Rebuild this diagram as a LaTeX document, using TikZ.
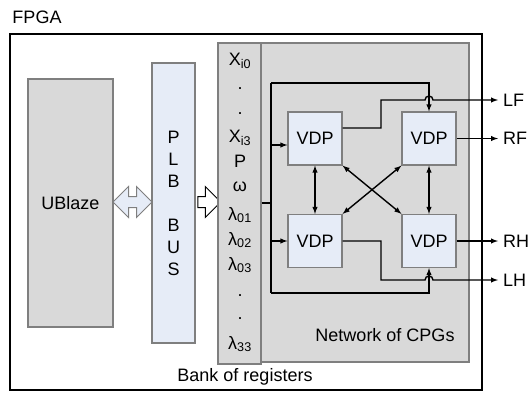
\documentclass[tikz,border=0pt]{standalone}
\usepackage{fontspec}
\setmainfont{Liberation Sans}
\usetikzlibrary{shapes,arrows,positioning,calc}

\definecolor{boxgray}{HTML}{D9D9D9}
\definecolor{edgegray}{HTML}{7F7F7F}
\definecolor{vdpblue}{HTML}{E6ECF7}

\begin{document}
\begin{tikzpicture}[
    x=1pt, y=-1pt,
    font=\fontsize{18}{22}\selectfont,
    graybox/.style={rectangle, draw=edgegray, fill=boxgray, line width=1.2pt, inner sep=0pt},
    bluebox/.style={rectangle, draw=edgegray, fill=vdpblue, line width=1.2pt, inner sep=0pt},
    vdp/.style={bluebox, minimum width=54pt, minimum height=53pt},
    wire/.style={line width=1.4pt},
    arrow/.style={wire, ->, >=latex},
    dblarrow/.style={wire, <->, >=latex},
    reglabel/.style={anchor=base, inner sep=0pt},
    outlabel/.style={anchor=west, inner sep=5pt}
]

\useasboundingbox (0,0) rectangle (529,392);

% Title
\node (title) at (37,17) {FPGA};
\node[draw=black, line width=2.8pt, minimum width=472pt, minimum height=356pt] (fpga) at (246,212) {};

% Processor and bus
\node[graybox, minimum width=85pt, minimum height=248pt] (ublaze) at (70.5,203) {UBlaze};
\node[bluebox, minimum width=43pt, minimum height=280pt, align=center] (plb) at (173.5,203) {P\\L\\B\\[22pt]B\\U\\S};

\node[double arrow, draw=edgegray, fill=vdpblue, line width=1pt, minimum height=39pt, inner sep=5pt, double arrow head extend=10pt] (hostarrow) at (132.5,202) {};
\node[single arrow, draw=black, fill=white, line width=1pt, minimum height=23pt, inner sep=5pt, single arrow head extend=10pt] (busarrow) at (206.5,202) {};

% Network and bank of registers
\node[graybox, minimum width=208pt, minimum height=319pt] (cpgs) at (365,202.5) {};
\node[graybox, minimum width=43pt, minimum height=321pt] (regs) at (239.5,203.5) {};

\foreach \txt/\y [count=\i] in {X\textsubscript{i0}/65, ./89, ./114, X\textsubscript{i3}/142, P/167, ω/191,
    λ\textsubscript{01}/220, λ\textsubscript{02}/245, λ\textsubscript{03}/270, ./296, ./319, λ\textsubscript{33}/349}
    \node[reglabel] (reg\i) at (240,\y) {\txt};

\node (banklbl) at (245,377) {Bank of registers};
\node (netlbl) at (385,335) {Network of CPGs};

% Oscillators
\node[vdp] (vdp1) at (315,138.5) {VDP};
\node[vdp] (vdp2) at (429,138.5) {VDP};
\node[vdp] (vdp3) at (315,241) {VDP};
\node[vdp] (vdp4) at (429,241) {VDP};

% Parameter lines
\coordinate (bustop) at (271,83);
\coordinate (busbot) at (271,293);
\coordinate (tap) at (271,203);
\draw[wire] (regs.east |- tap) -- (tap);
\draw[wire] (bustop) -- (busbot);
\draw[arrow] (bustop) -| (vdp2.north);
\draw[arrow] (busbot) -| (vdp4.south);
\draw[arrow] (bustop |- 0,145) -- (vdp1.west |- 0,145);
\draw[arrow] (bustop |- vdp3.west) -- (vdp3.west);

% Coupling
\draw[dblarrow] (vdp1) -- (vdp3);
\draw[dblarrow] (vdp2) -- (vdp4);
\draw[dblarrow] (vdp1.south east) -- (vdp4.north west);
\draw[dblarrow] (vdp2.south west) -- (vdp3.north east);

% Outputs
\node[outlabel] (lf) at (498,100) {LF};
\node[outlabel] (rf) at (498,138.5) {RF};
\node[outlabel] (rh) at (498,241) {RH};
\node[outlabel] (lh) at (498,280) {LH};
\draw[arrow] (vdp1.east |- 0,128) -| (381,100) -- (425,100) arc[start angle=180, end angle=360, radius=4] -- (lf.west);
\draw[arrow] (vdp2.east) -- (rf.west);
\draw[arrow] (vdp4.east) -- (rh.west);
\draw[arrow] (vdp3.east) -| (381,280) -- (425,280) arc[start angle=180, end angle=360, radius=4] -- (lh.west);

\end{tikzpicture}
\end{document}
